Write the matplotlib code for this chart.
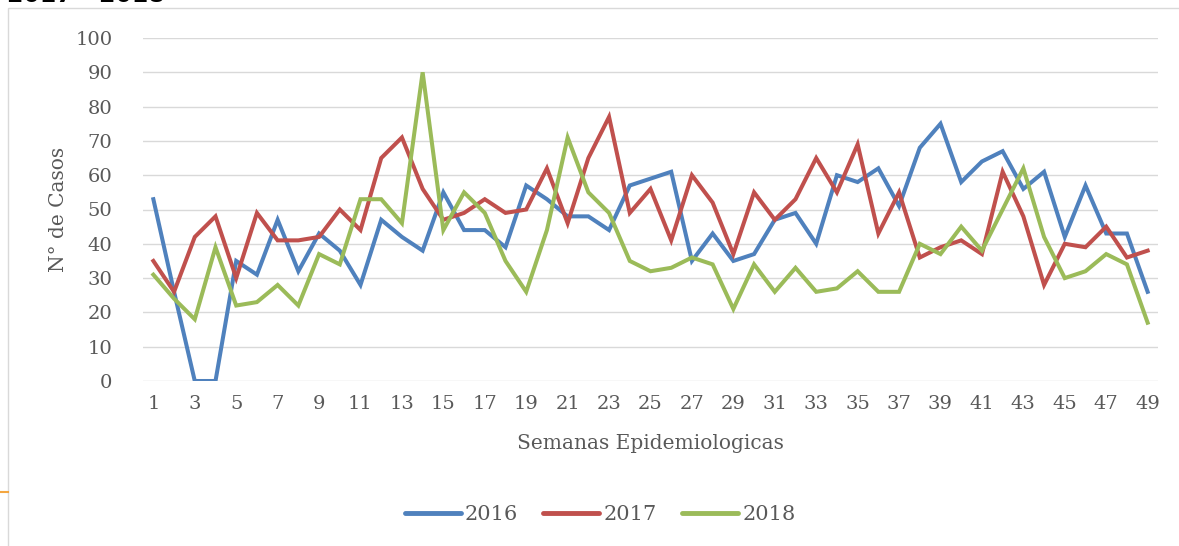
import matplotlib
matplotlib.use("Agg")
import matplotlib.pyplot as plt
from matplotlib.patches import Rectangle
from matplotlib.lines import Line2D

weeks = list(range(1, 50))

cases_2016 = [53, 26, 0, 0, 35, 31, 47, 32, 43, 38, 28, 47, 42, 38, 55, 44, 44,
              39, 57, 53, 48, 48, 44, 57, 59, 61, 35, 43, 35, 37, 47, 49, 40, 60,
              58, 62, 51, 68, 75, 58, 64, 67, 56, 61, 42, 57, 43, 43, 26]
cases_2017 = [35, 26, 42, 48, 30, 49, 41, 41, 42, 50, 44, 65, 71, 56, 47, 49, 53,
              49, 50, 62, 46, 65, 77, 49, 56, 41, 60, 52, 37, 55, 47, 53, 65, 55,
              69, 43, 55, 36, 39, 41, 37, 61, 48, 28, 40, 39, 45, 36, 38]
cases_2018 = [31, 24, 18, 39, 22, 23, 28, 22, 37, 34, 53, 53, 46, 90, 44, 55, 49,
              35, 26, 44, 71, 55, 49, 35, 32, 33, 36, 34, 21, 34, 26, 33, 26, 27,
              32, 26, 26, 40, 37, 45, 38, 50, 62, 42, 30, 32, 37, 34, 17]

series = [("2016", cases_2016, "#4f81bd"),
          ("2017", cases_2017, "#c0504d"),
          ("2018", cases_2018, "#9bbb59")]

GRAY = "#595959"
FONT = "DejaVu Serif"

W, H = 1179, 546
fig = plt.figure(figsize=(W / 100, H / 100), dpi=100)
fig.patch.set_facecolor("white")

# chart frame (partially outside the picture)
fig.add_artist(Rectangle((8 / W, -0.05), 1.1, 1 - 8 / H + 0.05, transform=fig.transFigure,
                         fill=False, edgecolor="#d9d9d9", lw=1.0))
fig.add_artist(Line2D([0, 8 / W], [1 - 492 / H] * 2, transform=fig.transFigure,
                      color="#f4a640", lw=1.5))
# page title, cut off by the top edge as in the source
fig.text(7 / W, 1 - 2.5 / H, "2017 - 2018", fontsize=17, fontweight="bold",
         color="black", va="baseline", ha="left", family="DejaVu Sans")

ax = fig.add_axes([143 / W, (H - 381) / H, (1158 - 143) / W, (381 - 38) / H])
for name, vals, c in series:
    ax.plot(weeks, vals, color=c, lw=2.9, label=name, solid_joinstyle="miter")

ax.set_xlim(0.5, 49.5)
ax.set_ylim(0, 100)
ax.set_yticks(range(0, 101, 10))
ax.set_xticks(range(1, 50, 2))
ax.grid(axis="y", color="#d9d9d9", lw=1.0)
ax.set_axisbelow(True)
for s in ax.spines.values():
    s.set_visible(False)
ax.tick_params(length=0, labelsize=14, labelcolor=GRAY, pad=10)
for lab in ax.get_xticklabels() + ax.get_yticklabels():
    lab.set_family(FONT)
ax.tick_params(axis="y", pad=22)

ax.set_xlabel("Semanas Epidemiologicas", fontsize=14.5, color=GRAY, family=FONT, labelpad=15)
ax.set_ylabel("N° de Casos", fontsize=14.5, color=GRAY, family=FONT, labelpad=5)

leg = fig.legend(loc="center", bbox_to_anchor=(600 / W, 1 - 515 / H), ncol=3,
                 frameon=False, prop={"family": FONT, "size": 15},
                 handlelength=2.7, handletextpad=0.2, columnspacing=1.2)
for t in leg.get_texts():
    t.set_color(GRAY)
for l in leg.get_lines():
    l.set_linewidth(3.5)
    l.set_solid_capstyle("round")

fig.savefig("out.png", dpi=100, facecolor="white")
